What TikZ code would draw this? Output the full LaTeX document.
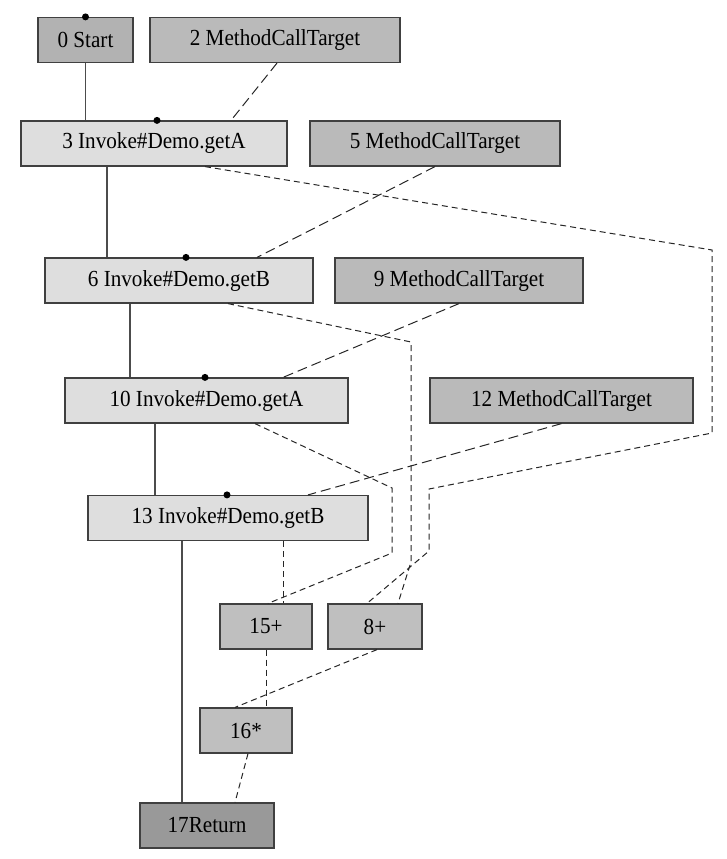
\documentclass[tikz,border=0pt]{standalone}
\usepackage{fontspec}
\setmainfont{Liberation Serif}[FakeStretch=0.92]
\usetikzlibrary{calc}

\tikzset{every picture/.style={line width=0.75pt}}
\tikzset{
  nodebox/.style={draw=black!75, line width=1.2pt, inner sep=0pt, minimum height=45pt, font=\fontsize{23}{27}\selectfont},
  startbox/.style={nodebox, fill=black!30},
  invokebox/.style={nodebox, fill=black!13},
  targetbox/.style={nodebox, fill=black!27},
  opbox/.style={nodebox, fill=black!25},
  returnbox/.style={nodebox, fill=black!40},
  ctrledge/.style={draw=black!70, line width=1.2pt},
  dataedge/.style={draw=black!85, line width=1pt, dash pattern=on 6pt off 4pt},
  calledge/.style={draw=black!85, line width=1pt, dash pattern=on 10pt off 5pt},
  topdot/.style={circle, fill=black, inner sep=0pt, minimum size=7pt},
}

\begin{document}
\begin{tikzpicture}[x=1pt,y=1pt,yscale=-1,xscale=1]
\useasboundingbox (0,0) rectangle (726,859);

% Nodes
\node[startbox, minimum width=95pt] (start) at (85.5,40) {0 Start};
\node[targetbox, minimum width=250pt] (mct2) at (275,40) {2 MethodCallTarget};
\node[invokebox, minimum width=266pt] (inv3) at (154,143.5) {3 Invoke\#Demo.getA};
\node[targetbox, minimum width=250pt] (mct5) at (435,143.5) {5 MethodCallTarget};
\node[invokebox, minimum width=268pt] (inv6) at (179,280.5) {6 Invoke\#Demo.getB};
\node[targetbox, minimum width=248pt] (mct9) at (459,280.5) {9 MethodCallTarget};
\node[invokebox, minimum width=283pt] (inv10) at (206.5,400.5) {10 Invoke\#Demo.getA};
\node[targetbox, minimum width=263pt] (mct12) at (561.5,400.5) {12 MethodCallTarget};
\node[invokebox, minimum width=280pt] (inv13) at (228,518) {13 Invoke\#Demo.getB};
\node[opbox, minimum width=92pt] (add15) at (266,626.5) {15+};
\node[opbox, minimum width=94pt] (add8) at (375,626.5) {8+};
\node[opbox, minimum width=92pt] (mul16) at (246,730.5) {16*};
\node[returnbox, minimum width=134pt] (ret17) at (207,825.5) {17Return};

% control flow
\draw[ctrledge] (start.south) -- (start.south |- inv3.north);
\draw[ctrledge] ($(inv3.south)+(-47,0)$) coordinate (c3) -- (c3 |- inv6.north);
\draw[ctrledge] ($(inv6.south)+(-49,0)$) coordinate (c6) -- (c6 |- inv10.north);
\draw[ctrledge] ($(inv10.south)+(-51.5,0)$) coordinate (c10) -- (c10 |- inv13.north);
\draw[ctrledge] ($(inv13.south)+(-46,0)$) coordinate (c13) -- (c13 |- ret17.north);

% call targets
\draw[calledge] ($(mct2.south)+(2,0)$) -- ($(inv3.north)+(77,0)$);
\draw[calledge] (mct5.south) -- ($(inv6.north)+(78,0)$);
\draw[calledge] (mct9.south) -- ($(inv10.north)+(76.5,0)$);
\draw[calledge] (mct12.south) -- ($(inv13.north)+(80,0)$);

% data flow
\draw[dataedge] ($(inv3.south)+(51,0)$) -- (712,250) -- (712,433) -- (429,489) -- (429,551) -- ($(add8.north)+(-8,0)$);
\draw[dataedge] ($(inv6.south)+(49,0)$) -- (411,342) -- (411,562) -- ($(add8.north)+(23,0)$);
\draw[dataedge] ($(inv10.south)+(48.5,0)$) -- (392,488) -- (392,553) -- ($(add15.north)+(2,0)$);
\draw[dataedge] ($(inv13.south)+(55,0)$) coordinate (e13) -- (e13 |- add15.north);
\draw[dataedge] (add15.south) -- (add15.south |- mul16.north);
\draw[dataedge] ($(add8.south)+(2,0)$) -- ($(mul16.north)+(-11,0)$);
\draw[dataedge] ($(mul16.south)+(2,0)$) -- ($(ret17.north)+(28,0)$);

% anchor dots
\node[topdot] (d0) at (start.north) {};
\node[topdot] (d3) at ($(inv3.north)+(3,0)$) {};
\node[topdot] (d6) at ($(inv6.north)+(7,0)$) {};
\node[topdot] (d10) at ($(inv10.north)+(-1.5,0)$) {};
\node[topdot] (d13) at ($(inv13.north)+(-1,0)$) {};

\end{tikzpicture}
\end{document}
